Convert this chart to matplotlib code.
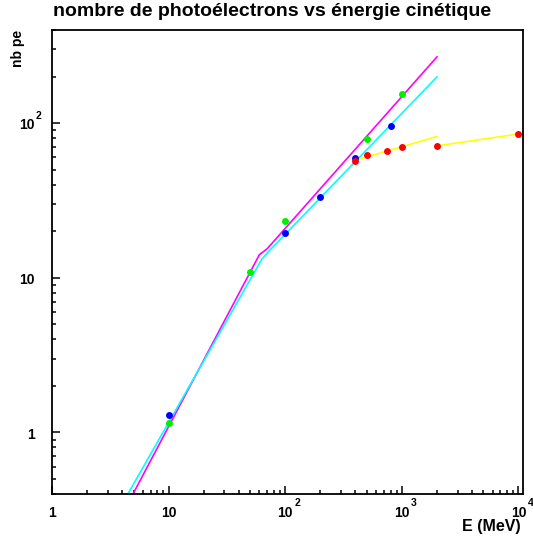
import numpy as np
import matplotlib
matplotlib.use("Agg")
import matplotlib.pyplot as plt
from matplotlib.ticker import LogLocator, NullFormatter

plt.rcParams['font.family'] = ['Liberation Sans', 'DejaVu Sans']
plt.rcParams['font.weight'] = 'bold'

# ── data ──
# points
e_bleu = [10, 100, 200, 400, 800]
pe_bleu = [1.30, 19.6, 33.4, 59.5, 96]

e_vert = [10, 50, 100, 500, 1000]
pe_vert = [1.15, 10.9, 23.4, 79, 154]

e_rouge = [400, 500, 750, 1000, 2000, 10000]
pe_rouge = [57, 62, 66, 70.5, 71.3, 85]

# fitted curves
e_magenta = [4.95, 60, 70, 2000]
pe_magenta = [0.4, 14.1, 15.4, 268]

e_cyan = [4.47, 63, 72, 2000]
pe_cyan = [0.4, 13.2, 14.8, 199]

e_jaune1 = [400, 2000]
pe_jaune1 = [57.5, 82]
e_jaune2 = [2000, 10000]
pe_jaune2 = [71.3, 85]

x_major = [1, 10, 100, 1000, 10000]
x_labels = [("1", ""), ("10", ""), ("10", "2"), ("10", "3"), ("10", "4")]
y_major = [1, 10, 100]
y_labels = [("1", ""), ("10", ""), ("10", "2")]

# ── figure ──
fig = plt.figure(figsize=(5.33, 5.38), dpi=100)
ax = fig.add_axes([52/533, 1 - 494/538, (523 - 52)/533, (494 - 30)/538])

lw = 1.2
ax.plot(e_magenta, pe_magenta, color='#ff00ff', lw=lw, zorder=2)
ax.plot(e_cyan, pe_cyan, color='#00ffff', lw=lw, zorder=2)
ax.plot(e_jaune1, pe_jaune1, color='#ffff00', lw=lw, zorder=2)
ax.plot(e_jaune2, pe_jaune2, color='#ffff00', lw=lw, zorder=2)

ms = 5
ax.plot(e_bleu, pe_bleu, 'o', color='#0000ff', ms=ms, mec='none', zorder=3)
ax.plot(e_vert, pe_vert, 'o', color='#00ee00', ms=ms, mec='none', zorder=3)
ax.plot(e_rouge, pe_rouge, 'o', color='#ff0000', ms=ms, mec='none', zorder=3)

ax.set_xscale('log')
ax.set_yscale('log')
ax.set_xlim(1, 1.093e4)
ax.set_ylim(0.4, 400)

for s in ax.spines.values():
    s.set_linewidth(1.3)

ax.xaxis.set_major_locator(LogLocator(base=10, numticks=10))
ax.xaxis.set_minor_locator(LogLocator(base=10, subs=np.arange(2, 10), numticks=20))
ax.yaxis.set_major_locator(LogLocator(base=10, numticks=10))
ax.yaxis.set_minor_locator(LogLocator(base=10, subs=np.arange(2, 10), numticks=20))
for a in (ax.xaxis, ax.yaxis):
    a.set_major_formatter(NullFormatter())
    a.set_minor_formatter(NullFormatter())
ax.tick_params(which='major', direction='in', length=6, width=1.1, top=False, right=False)
ax.tick_params(which='minor', direction='in', length=3, width=1.1, top=False, right=False)

# tick labels drawn by hand (ROOT style exponent)
fs = 10
for v, (base, ex) in zip(x_major, x_labels):
    ax.annotate(base, xy=(v, 0), xycoords=('data', 'axes fraction'),
                xytext=(0, -8.5), textcoords='offset points',
                ha='center', va='top', fontsize=fs, fontweight='bold')
    if ex:
        ax.annotate(ex, xy=(v, 0), xycoords=('data', 'axes fraction'),
                    xytext=(6.6, -6.3), textcoords='offset points',
                    ha='left', va='center', fontsize=7.5, fontweight='bold',
                    annotation_clip=False)

for v, (base, ex) in zip(y_major, y_labels):
    ax.annotate(base, xy=(0, v), xycoords=('axes fraction', 'data'),
                xytext=(-12.5, -1.5), textcoords='offset points',
                ha='right', va='center', fontsize=fs, fontweight='bold')
    if ex:
        ax.annotate(ex, xy=(0, v), xycoords=('axes fraction', 'data'),
                    xytext=(-11.5, 1.5), textcoords='offset points',
                    ha='left', va='bottom', fontsize=7.5, fontweight='bold')

fig.text(0.5 * (52 + 493) / 533, 1 - 12 / 538,
         "nombre de photoélectrons vs énergie cinétique",
         ha='center', va='center', fontsize=14, fontweight='bold')
fig.text(18 / 533, 1 - 30 / 538, "nb pe", rotation=90,
         ha='center', va='top', fontsize=10, fontweight='bold')
fig.text(521 / 533, 1 - 527 / 538, "E (MeV)",
         ha='right', va='center', fontsize=11.5, fontweight='bold')

fig.savefig("out.png", dpi=100)
